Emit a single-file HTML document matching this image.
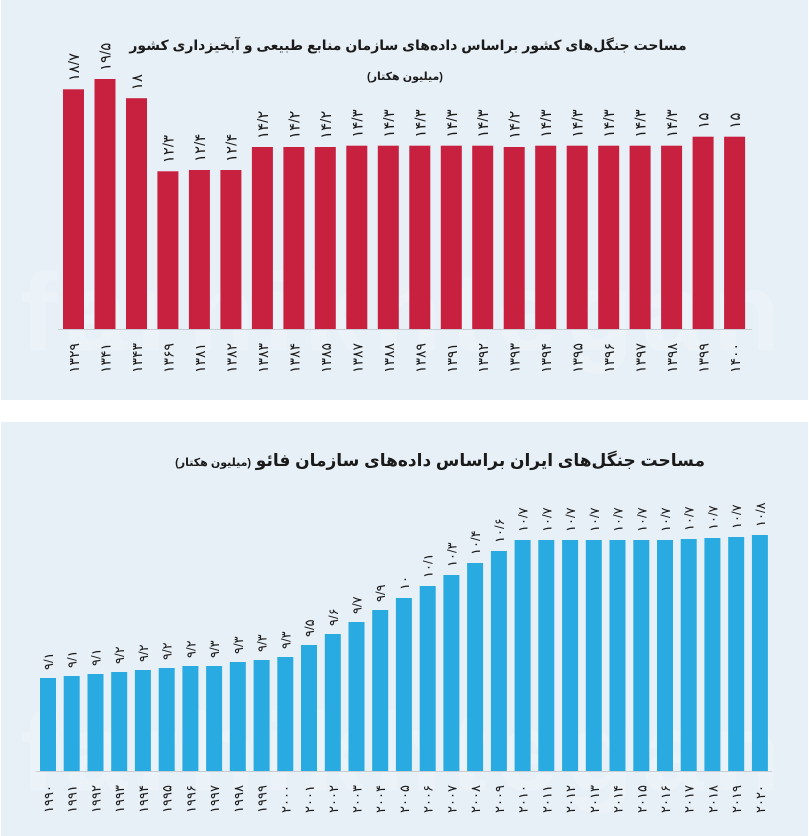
<!DOCTYPE html>
<html><head><meta charset="utf-8">
<style>
html,body{margin:0;padding:0;background:#fff;}
svg{display:block;font-family:"Liberation Sans","DejaVu Sans","Noto Sans CJK SC",sans-serif;}
</style></head>
<body>
<svg id="s" width="809" height="836" viewBox="0 0 809 836" xmlns="http://www.w3.org/2000/svg">
<rect x="1" y="0" width="807" height="400" fill="#e8f0f7"/>
<rect x="1" y="422" width="807" height="414" fill="#e8f0f7"/>
<g fill="#f3f7fb" opacity="0.45" font-weight="bold">
<text x="400" y="350" font-size="110" text-anchor="middle" textLength="760">farhikhtegan</text>
<text x="400" y="790" font-size="110" text-anchor="middle" textLength="760">farhikhtegan</text>
</g>
<text x="408" y="50" font-size="14" font-weight="bold" text-anchor="middle" fill="#1a1a1a" direction="rtl">مساحت جنگل‌های کشور براساس داده‌های سازمان منابع طبیعی و آبخیزداری کشور</text>
<text x="405" y="80" font-size="11" font-weight="bold" text-anchor="middle" fill="#1a1a1a" direction="rtl">(میلیون هکتار)</text>
<text x="705" y="466" font-size="17" font-weight="bold" text-anchor="start" fill="#1a1a1a" direction="rtl">مساحت جنگل‌های ایران براساس داده‌های سازمان فائو <tspan font-size="11">(میلیون هکتار)</tspan></text>
<line x1="58" y1="329.5" x2="752" y2="329.5" stroke="#c9ced4" stroke-width="1"/>
<line x1="36" y1="771.5" x2="772" y2="771.5" stroke="#c9ced4" stroke-width="1"/>
<g id="g"></g>
</svg>
<script>
(function(){
var fa=function(s){return String(s).replace(/[0-9]/g,function(d){return "۰۱۲۳۴۵۶۷۸۹"[d];}).replace(/\./g,"/");};
var g=document.getElementById('g'),h='';
var tv=[18.7,19.5,18,12.3,12.4,12.4,14.2,14.2,14.2,14.3,14.3,14.3,14.3,14.3,14.2,14.3,14.3,14.3,14.3,14.3,15,15];
var ty=[1329,1341,1343,1369,1381,1382,1383,1384,1385,1387,1388,1389,1391,1392,1393,1394,1395,1396,1397,1398,1399,1400];
for(var i=0;i<22;i++){
 var x=63+i*31.48,t=329-tv[i]*12.82;
 h+='<rect x="'+x.toFixed(1)+'" y="'+t.toFixed(1)+'" width="21" height="'+(329-t).toFixed(1)+'" fill="#c8203f"/>';
 h+='<text transform="translate('+(x+16).toFixed(1)+','+(t-8).toFixed(1)+') rotate(-90)" font-size="15" fill="#1a1a1a">'+fa(tv[i])+'</text>';
 h+='<text transform="translate('+(x+16).toFixed(1)+',373) rotate(-90)" font-size="14" fill="#1a1a1a">'+fa(ty[i])+'</text>';
}
var bv=['9.1','9.1','9.1','9.2','9.2','9.2','9.2','9.3','9.3','9.3','9.3','9.5','9.6','9.7','9.9','10','10.1','10.3','10.4','10.6','10.7','10.7','10.7','10.7','10.7','10.7','10.7','10.7','10.7','10.7','10.8'];
var bt=[678,676,674,672,670,668,666,666,662,660,657,645,634,622,610,598,586,575,563,551,540,540,540,540,540,540,540,539,538,537,535];
for(var i=0;i<31;i++){
 var x=40+i*23.73,t=bt[i];
 h+='<rect x="'+x.toFixed(1)+'" y="'+t+'" width="16" height="'+(771-t)+'" fill="#29abe2"/>';
 h+='<text transform="translate('+(x+13).toFixed(1)+','+(t-8)+') rotate(-90)" font-size="13" fill="#1a1a1a">'+fa(bv[i])+'</text>';
 h+='<text transform="translate('+(x+13).toFixed(1)+',813) rotate(-90)" font-size="13" fill="#1a1a1a">'+fa(1990+i)+'</text>';
}
g.innerHTML=h;
})();
</script>
</body></html>
